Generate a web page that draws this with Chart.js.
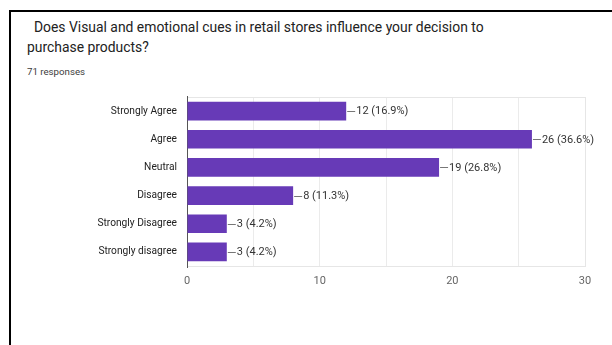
<!DOCTYPE html>
<html>
<head>
<meta charset="utf-8">
<script src="https://cdn.jsdelivr.net/npm/chart.js@4.4.1/dist/chart.umd.min.js"></script>
<style>
  html, body { margin: 0; padding: 0; background: #fff; }
  body { width: 612px; height: 345px; position: relative; overflow: hidden; font-family: Roboto, Arial, sans-serif; }
  #frameTop  { position: absolute; left: 9px; top: 10px; width: 603px; height: 2px; background: #000; }
  #frameLeft { position: absolute; left: 9px; top: 10px; width: 2px; height: 335px; background: #000; }
  #title { position: absolute; left: 27px; top: 17px; font-size: 13.9px; line-height: 20px; color: #222; white-space: pre; }
  #responses { position: absolute; left: 27px; top: 66px; font-size: 9.7px; color: #3c3c3c; }
  #chart { position: absolute; left: 0; top: 0; }
</style>
</head>
<body>
<div id="frameTop"></div>
<div id="frameLeft"></div>
<div id="title">  Does Visual and emotional cues in retail stores influence your decision to
purchase products?</div>
<div id="responses">71 responses</div>
<canvas id="chart" width="612" height="345"></canvas>

<script>
/* ---- Survey answers ---- */
const categories = ['Strongly Agree', 'Agree', 'Neutral', 'Disagree', 'Strongly Disagree', 'Strongly disagree'];
const counts     = [12, 26, 19, 8, 3, 3];
const percents   = ['16.9%', '36.6%', '26.8%', '11.3%', '4.2%', '4.2%'];
const xTicks     = [0, 10, 20, 30];

const PURPLE = '#673ab7';

/* light frame around the plot area */
const plotFrame = {
  id: 'plotFrame',
  beforeDatasetsDraw(chart) {
    const { ctx, chartArea: a } = chart;
    ctx.save();
    ctx.strokeStyle = '#e6e6e6';
    ctx.lineWidth = 1;
    ctx.strokeRect(a.left + 0.5, a.top + 0.5, a.right - a.left, a.bottom - a.top);
    // zero axis runs a little past the plot
    ctx.strokeStyle = '#555';
    ctx.beginPath();
    ctx.moveTo(a.left + 0.5, a.top - 1);
    ctx.lineTo(a.left + 0.5, a.bottom + 2);
    ctx.stroke();
    ctx.restore();
  },
};

/* value labels with a short leader line after each bar */
const barLabels = {
  id: 'barLabels',
  afterDatasetsDraw(chart) {
    const { ctx } = chart;
    const meta = chart.getDatasetMeta(0);
    ctx.save();
    ctx.font = '11px Roboto, Arial, sans-serif';
    ctx.textBaseline = 'middle';
    ctx.textAlign = 'left';
    meta.data.forEach((bar, i) => {
      const y = Math.round(bar.y) + 0.5;
      ctx.strokeStyle = '#777';
      ctx.lineWidth = 1;
      ctx.beginPath();
      ctx.moveTo(bar.x + 1, y);
      ctx.lineTo(bar.x + 9, y);
      ctx.stroke();
      ctx.fillStyle = '#333';
      ctx.fillText(`${counts[i]} (${percents[i]})`, bar.x + 10, bar.y + 0.5);
    });
    ctx.restore();
  },
};

new Chart(document.getElementById('chart'), {
  type: 'bar',
  data: {
    labels: categories,
    datasets: [{
      data: counts,
      backgroundColor: PURPLE,
      borderWidth: 0,
      barPercentage: 0.66,
      categoryPercentage: 1,
    }],
  },
  options: {
    indexAxis: 'y',
    responsive: false,
    animation: false,
    layout: { padding: { left: 0, right: 27, top: 97, bottom: 57 } },
    plugins: { legend: { display: false }, tooltip: { enabled: false } },
    scales: {
      x: {
        min: 0,
        max: 30,
        grid: { color: '#ebebeb', drawTicks: false },
        border: { display: false },
        ticks: {
          stepSize: 5,
          padding: 9,
          color: '#666',
          font: { size: 11, family: 'Roboto, Arial, sans-serif' },
          callback: v => (xTicks.includes(v) ? String(v) : ''),
        },
        afterFit(scale) { scale.height = 22; },
      },
      y: {
        grid: { display: false, drawTicks: false },
        border: { display: false },
        ticks: {
          padding: 10,
          color: '#222',
          font: { size: 10.2, family: 'Roboto, Arial, sans-serif' },
        },
        afterFit(scale) { scale.width = 187; },
      },
    },
  },
  plugins: [plotFrame, barLabels],
});
</script>
</body>
</html>
